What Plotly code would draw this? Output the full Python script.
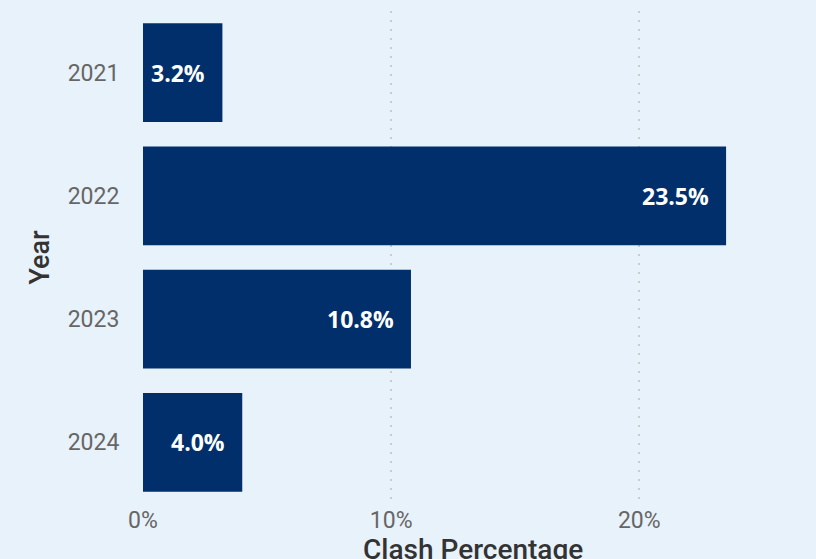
import plotly.graph_objects as go

years = ["2021", "2022", "2023", "2024"]
clash_pct = [3.2, 23.5, 10.8, 4.0]
x_ticks = [0, 10, 20]
x_tick_labels = ["0%", "10%", "20%"]

bar_color = "#002F6C"
bg = "#E8F2FA"

fig = go.Figure()
fig.add_trace(go.Bar(
    x=clash_pct, y=years, orientation="h",
    marker=dict(color=bar_color, line=dict(width=0)),
    width=0.8, hoverinfo="skip",
))

for i, (v, y) in enumerate(zip(clash_pct, years)):
    fig.add_annotation(
        x=v, y=i, text=f"<b>{v:.1f}%</b>", showarrow=False,
        xanchor="right", xshift=-15,
        font=dict(family="Open Sans", size=23, color="white"),
    )

# x-axis title placed below tick labels (cut at the window edge as in the original)
fig.add_annotation(
    x=0.5, y=0, xref="paper", yref="paper", text="Clash Percentage",
    showarrow=False, xanchor="center", yanchor="top", yshift=-27,
    font=dict(family="Roboto", size=28, color="#333333", weight=500),
)

fig.update_layout(
    width=816, height=559,
    paper_bgcolor=bg, plot_bgcolor=bg,
    margin=dict(l=143, r=13, t=11, b=55, autoexpand=False),
    showlegend=False,
    font=dict(family="Roboto", color="#666666"),
    xaxis=dict(
        range=[0, 26.6], tickvals=x_ticks, ticktext=x_tick_labels,
        showgrid=True, gridcolor="#C8CCD0", griddash="2px,7px", gridwidth=1.5,
        zeroline=False, showline=False, automargin=False,
        tickfont=dict(family="Roboto", size=23, color="#666666"),
    ),
    yaxis=dict(
        type="category",
        categoryorder="array", categoryarray=years, range=[3.5, -0.5],
        showgrid=False, zeroline=False, showline=False, automargin=False,
        ticks="outside", ticklen=18, tickcolor="rgba(0,0,0,0)",
        tickfont=dict(family="Roboto", size=23, color="#666666"),
        title=dict(text="Year", standoff=10,
                   font=dict(family="Roboto", size=27, color="#333333", weight=500)),
    ),
)

fig.write_html(
    "out.html",
    config={"displayModeBar": False},
    post_script=f"document.body.style.margin='0';document.body.style.background='{bg}';",
)
